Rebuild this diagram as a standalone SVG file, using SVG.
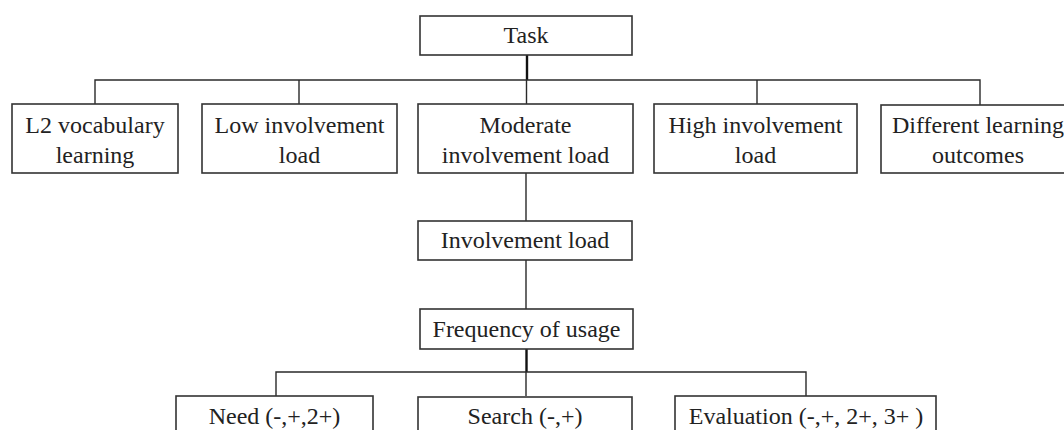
<svg xmlns="http://www.w3.org/2000/svg" width="1064" height="430" viewBox="0 0 1064 430">
<style>
.box{fill:#fff;stroke:#333;stroke-width:1.6}
.ln{fill:none;stroke:#2a2a2a;stroke-width:1.4}
.tr{fill:none;stroke:#111;stroke-width:2.4}
text{font-family:"Liberation Serif","Times New Roman",serif;font-size:24px;fill:#222;text-anchor:middle}
</style>
<rect width="1064" height="430" fill="#fff"/>
<g id="connectors">
<path class="tr" d="M527 55V80"/>
<path class="ln" d="M95 104V80H980V105M299 80V104M526.5 80V104M757 80V104"/>
<path class="ln" d="M526 173V221M526 260V309"/>
<path class="tr" d="M526.5 349V372"/>
<path class="ln" d="M276 396V372H806V396M526 372V396"/>
</g>
<g id="task"><rect class="box" x="420" y="16" width="212" height="39"/><text x="526" y="43">Task</text></g>
<g id="l2"><rect class="box" x="12" y="104" width="166" height="69"/><text x="95" y="133">L2 vocabulary</text><text x="95" y="163">learning</text></g>
<g id="low"><rect class="box" x="202" y="104" width="195" height="69"/><text x="299.5" y="133">Low involvement</text><text x="299.5" y="163">load</text></g>
<g id="moderate"><rect class="box" x="418" y="104" width="215" height="69"/><text x="525.5" y="133">Moderate</text><text x="525.5" y="163">involvement load</text></g>
<g id="high"><rect class="box" x="654" y="104" width="203" height="69"/><text x="755.5" y="133">High involvement</text><text x="755.5" y="163">load</text></g>
<g id="different"><rect class="box" x="881" y="105" width="200" height="68"/><text x="978" y="133">Different learning</text><text x="978" y="163">outcomes</text></g>
<g id="involvement"><rect class="box" x="418" y="221" width="214" height="39"/><text x="525" y="248">Involvement load</text></g>
<g id="frequency"><rect class="box" x="420" y="309" width="213" height="40"/><text x="526.5" y="337">Frequency of usage</text></g>
<g id="need"><rect class="box" x="176" y="396" width="197" height="50"/><text x="274.5" y="424">Need (-,+,2+)</text></g>
<g id="search"><rect class="box" x="418" y="397" width="214" height="50"/><text x="525" y="424">Search (-,+)</text></g>
<g id="evaluation"><rect class="box" x="675" y="396" width="261" height="50"/><text x="806" y="424">Evaluation (-,+, 2+, 3+ )</text></g>
</svg>
